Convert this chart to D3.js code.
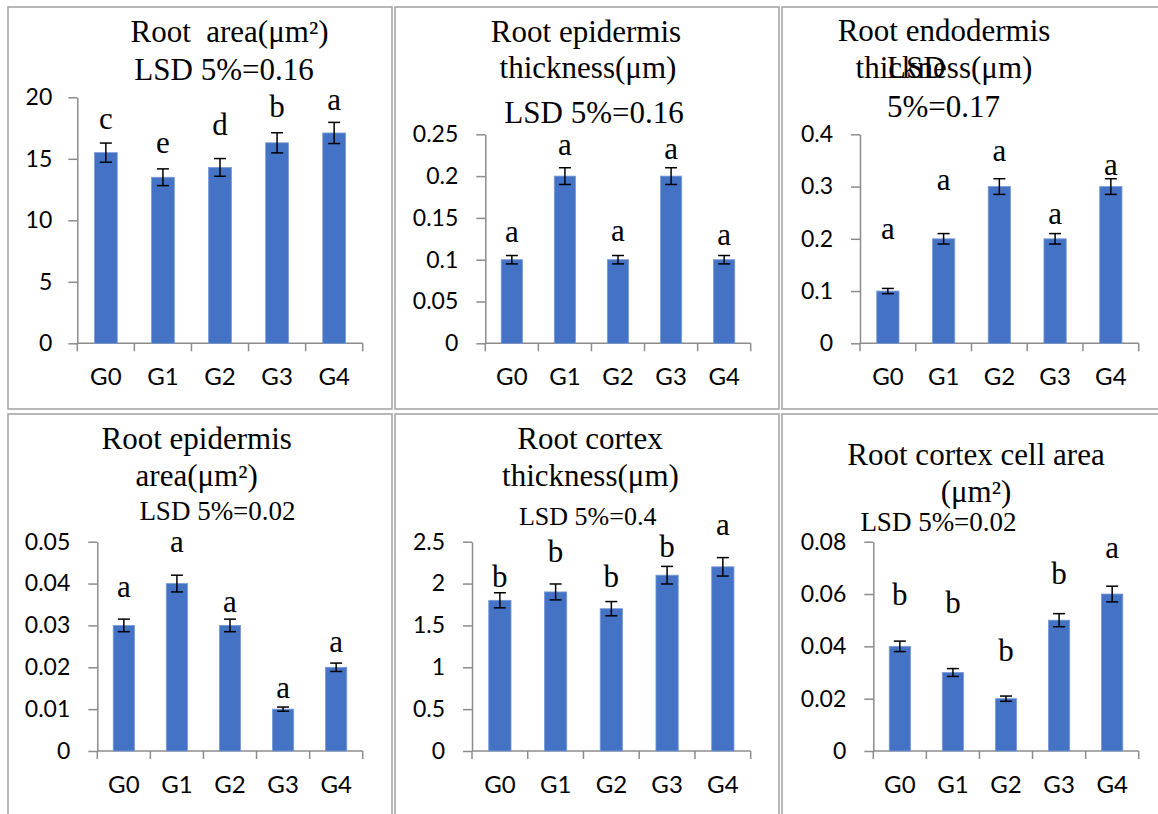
<!DOCTYPE html>
<html>
<head>
<meta charset="utf-8">
<script src="https://cdn.jsdelivr.net/npm/d3@7"></script>
<style>
  body { margin: 0; background: #fff; }
  svg text { white-space: pre; }
</style>
</head>
<body>
<div id="my_dataviz"></div>
<script>
var groups = ["G0", "G1", "G2", "G3", "G4"];

// root area
var areaValues = [15.5, 13.5, 14.3, 16.3, 17.1];
var areaErrors = [0.78, 0.68, 0.72, 0.82, 0.86];
var areaLetters = ["c", "e", "d", "b", "a"];
var areaLetterY = [17.4, 15.5, 16.9, 18.4, 19.0];
var areaTicks = [0, 5, 10, 15, 20];

// root epidermis thickness
var epiThickValues = [0.1, 0.2, 0.1, 0.2, 0.1];
var epiThickErrors = [0.005, 0.01, 0.005, 0.01, 0.005];
var epiThickLetters = ["a", "a", "a", "a", "a"];
var epiThickLetterY = [0.1215, 0.225, 0.1227, 0.221, 0.1176];
var epiThickTicks = [0, 0.05, 0.1, 0.15, 0.2, 0.25];

// root endodermis thickness
var endoValues = [0.1, 0.2, 0.3, 0.2, 0.3];
var endoErrors = [0.005, 0.01, 0.015, 0.01, 0.015];
var endoLetters = ["a", "a", "a", "a", "a"];
var endoLetterY = [0.199, 0.293, 0.348, 0.228, 0.322];
var endoTicks = [0, 0.1, 0.2, 0.3, 0.4];

// root epidermis area
var epiAreaValues = [0.03, 0.04, 0.03, 0.01, 0.02];
var epiAreaErrors = [0.0015, 0.002, 0.0015, 0.0005, 0.001];
var epiAreaLetters = ["a", "a", "a", "a", "a"];
var epiAreaLetterY = [0.0369, 0.0476, 0.0333, 0.0126, 0.0237];
var epiAreaTicks = [0, 0.01, 0.02, 0.03, 0.04, 0.05];

// root cortex thickness
var cortexValues = [1.8, 1.9, 1.7, 2.1, 2.2];
var cortexErrors = [0.09, 0.095, 0.085, 0.105, 0.11];
var cortexLetters = ["b", "b", "b", "b", "a"];
var cortexLetterY = [1.963, 2.262, 1.963, 2.32, 2.58];
var cortexTicks = [0, 0.5, 1, 1.5, 2, 2.5];

// root cortex cell area
var cellValues = [0.04, 0.03, 0.02, 0.05, 0.06];
var cellErrors = [0.002, 0.0015, 0.001, 0.0025, 0.003];
var cellLetters = ["b", "b", "b", "b", "a"];
var cellLetterY = [0.0558, 0.0526, 0.0344, 0.0637, 0.0736];
var cellTicks = [0, 0.02, 0.04, 0.06, 0.08];

var serif = "'Liberation Serif', 'Times New Roman', serif";
var sans = "Lato, 'Open Sans', sans-serif";
var axisColor = "#8c8c8c";

var svg = d3.select("#my_dataviz")
    .append("svg")
    .attr("width", 1158)
    .attr("height", 814);

function drawPanel(p) {
    // frame
    svg.append("rect")
        .attr("x", p.frame[0])
        .attr("y", p.frame[1])
        .attr("width", p.frame[2])
        .attr("height", p.frame[3])
        .attr("fill", "none")
        .attr("stroke", "#a6a6a6")
        .attr("stroke-width", 1.6);

    var x = d3.scaleBand()
        .domain(groups)
        .range([p.left, p.right])
        .paddingInner(0.6)
        .paddingOuter(0.3);

    var y = d3.scaleLinear()
        .domain([0, p.ticks[p.ticks.length - 1]])
        .range([p.bottom, p.top]);

    // Y
    var ya = svg.append("g")
        .attr("transform", "translate(" + p.left + ",0)")
        .call(d3.axisLeft(y).tickValues(p.ticks).tickSizeInner(9).tickSizeOuter(0).tickPadding(p.pad).tickFormat(function(d) { return String(d); }));
    ya.select(".domain").attr("stroke", axisColor).attr("stroke-width", 1.5);
    ya.selectAll(".tick line").attr("stroke", axisColor).attr("stroke-width", 1.5);
    ya.selectAll("text").style("font-family", sans).style("font-size", "23px").attr("fill", "#000");

    // X
    var xa = svg.append("g")
        .attr("transform", "translate(0," + p.bottom + ")")
        .call(d3.axisBottom(x).tickSize(0).tickPadding(0));
    xa.select(".domain").remove();
    xa.selectAll("text")
        .attr("y", 42)
        .attr("dy", null)
        .style("font-family", sans)
        .style("font-size", "24px")
        .attr("fill", "#000");

    svg.append("line")
        .attr("x1", p.left).attr("x2", p.right)
        .attr("y1", p.bottom).attr("y2", p.bottom)
        .attr("stroke", axisColor).attr("stroke-width", 1.5);

    svg.selectAll(null)
        .data(d3.range(groups.length + 1))
        .enter()
        .append("line")
        .attr("x1", function(i) { return p.left + i * x.step(); })
        .attr("x2", function(i) { return p.left + i * x.step(); })
        .attr("y1", p.bottom)
        .attr("y2", p.bottom + 8)
        .attr("stroke", axisColor)
        .attr("stroke-width", 1.5);

    //Bars
    svg.selectAll(null)
        .data(p.values)
        .enter()
        .append("rect")
        .attr("x", function(d, i) { return x(groups[i]); })
        .attr("y", function(d) { return y(d); })
        .attr("width", x.bandwidth())
        .attr("height", function(d) { return p.bottom - y(d); })
        .attr("fill", "#4472c4")
        .attr("stroke", "#7b9bd6")
        .attr("stroke-width", 0.8);

    // error bars
    var eb = svg.append("g").attr("stroke", "#000").attr("stroke-width", 1.5);
    p.values.forEach(function(v, i) {
        var cx = x(groups[i]) + x.bandwidth() / 2;
        var e = p.errors[i];
        eb.append("line").attr("x1", cx).attr("x2", cx).attr("y1", y(v + e)).attr("y2", y(v - e));
        eb.append("line").attr("x1", cx - 6).attr("x2", cx + 6).attr("y1", y(v + e)).attr("y2", y(v + e));
        eb.append("line").attr("x1", cx - 6).attr("x2", cx + 6).attr("y1", y(v - e)).attr("y2", y(v - e));
    });

    // letters
    svg.selectAll(null)
        .data(p.letters)
        .enter()
        .append("text")
        .attr("x", function(d, i) { return x(groups[i]) + x.bandwidth() / 2; })
        .attr("y", function(d, i) { return y(p.letterY[i]); })
        .attr("text-anchor", "middle")
        .style("font-family", serif)
        .style("font-size", "31px")
        .text(function(d) { return d; });

    // titles
    p.title.forEach(function(t) {
        svg.append("text")
            .attr("x", t[1])
            .attr("y", t[2])
            .attr("text-anchor", t[4] || "middle")
            .style("font-family", serif)
            .style("font-size", (t[3] || 31) + "px")
            .text(t[0]);
    });
}

drawPanel({
    frame: [8, 7, 384, 402], left: 77.3, right: 362.7, top: 97.3, bottom: 343.3, pad: 16,
    values: areaValues, errors: areaErrors, letters: areaLetters, letterY: areaLetterY, ticks: areaTicks,
    title: [["Root  area(μm²)", 229.5, 41.7], ["LSD 5%=0.16", 224, 80]]
});
drawPanel({
    frame: [395, 7, 384, 402], left: 485.3, right: 750.7, top: 134.3, bottom: 343.3, pad: 18,
    values: epiThickValues, errors: epiThickErrors, letters: epiThickLetters, letterY: epiThickLetterY, ticks: epiThickTicks,
    title: [["Root epidermis", 586, 41.7], ["thickness(μm)", 588, 78], ["LSD 5%=0.16", 594, 122.7]]
});
drawPanel({
    frame: [782, 7, 400, 402], left: 860, right: 1138.7, top: 134.3, bottom: 343.3, pad: 18,
    values: endoValues, errors: endoErrors, letters: endoLetters, letterY: endoLetterY, ticks: endoTicks,
    title: [["Root endodermis", 944, 40.7], ["thickness(μm)", 944, 78.3], ["LSD", 887, 78.3, 31, "start"], ["5%=0.17", 887, 116.7, 31, "start"]]
});
drawPanel({
    frame: [8, 414, 384, 420], left: 97.3, right: 362.7, top: 541.7, bottom: 751, pad: 18,
    values: epiAreaValues, errors: epiAreaErrors, letters: epiAreaLetters, letterY: epiAreaLetterY, ticks: epiAreaTicks,
    title: [["Root epidermis", 196.7, 449], ["area(μm²)", 196.7, 486], ["LSD 5%=0.02", 217.5, 520, 27]]
});
drawPanel({
    frame: [395, 414, 384, 420], left: 472, right: 750.7, top: 541.7, bottom: 751, pad: 18,
    values: cortexValues, errors: cortexErrors, letters: cortexLetters, letterY: cortexLetterY, ticks: cortexTicks,
    title: [["Root cortex", 590, 449], ["thickness(μm)", 590.5, 486], ["LSD 5%=0.4", 587.7, 525, 26]]
});
drawPanel({
    frame: [782, 414, 400, 420], left: 873.3, right: 1138.7, top: 541.7, bottom: 751, pad: 18,
    values: cellValues, errors: cellErrors, letters: cellLetters, letterY: cellLetterY, ticks: cellTicks,
    title: [["Root cortex cell area", 976, 465], ["(μm²)", 976, 501.7], ["LSD 5%=0.02", 938.5, 531, 27]]
});
</script>
</body>
</html>
